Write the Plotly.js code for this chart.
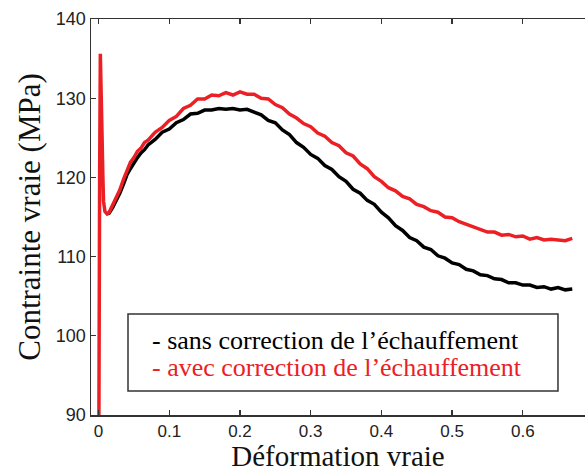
<!DOCTYPE html>
<html>
<head>
<meta charset="utf-8">
<script src="https://cdn.plot.ly/plotly-3.0.1.min.js"></script>
<style>html,body{margin:0;padding:0;background:#fff;overflow:hidden}#chart{width:585px;height:472px}</style>
</head>
<body>
<div id="chart"></div>
<script>
// Series: with thermal correction (red)
const strainRed = [0.0005,0.0007,0.0012,0.0015,0.0025,0.0035,0.004,0.005,0.006,0.007,0.009,0.012,0.015,0.02,0.025,0.03,0.035,0.04,0.045,0.05,0.055,0.06,0.065,0.07,0.08,0.09,0.10,0.11,0.12,0.13,0.14,0.15,0.16,0.17,0.18,0.19,0.20,0.21,0.22,0.23,0.24,0.25,0.26,0.27,0.28,0.29,0.30,0.31,0.32,0.33,0.34,0.35,0.36,0.37,0.38,0.39,0.40,0.41,0.42,0.43,0.44,0.45,0.46,0.47,0.48,0.49,0.50,0.51,0.52,0.53,0.54,0.55,0.56,0.57,0.58,0.59,0.60,0.61,0.62,0.63,0.64,0.65,0.66,0.67];
const stressRed = [90,104.8,105,120,135.6,128,131,125,120.5,117,115.7,115.4,115.6,116.5,117.4,118.4,119.7,120.7,121.9,122.5,123.3,123.7,124.4,124.7,125.7,126.3,127.2,127.7,128.7,129.1,129.9,129.9,130.4,130.3,130.7,130.4,130.8,130.5,130.5,130.0,129.9,129.2,128.8,128.0,127.5,126.8,126.4,125.6,125.2,124.4,124.0,123.1,122.7,121.7,121.1,120.1,119.5,118.7,118.3,117.6,117.3,116.6,116.3,115.8,115.6,115.0,114.9,114.4,114.1,113.7,113.5,113.1,113.1,112.7,112.8,112.5,112.6,112.2,112.4,112.1,112.2,112.1,112.0,112.3];
// Series: without thermal correction (black)
const strainBlack = [0.012,0.015,0.02,0.025,0.03,0.035,0.04,0.045,0.05,0.055,0.06,0.065,0.07,0.08,0.09,0.10,0.11,0.12,0.13,0.14,0.15,0.16,0.17,0.18,0.19,0.20,0.21,0.22,0.23,0.24,0.25,0.26,0.27,0.28,0.29,0.30,0.31,0.32,0.33,0.34,0.35,0.36,0.37,0.38,0.39,0.40,0.41,0.42,0.43,0.44,0.45,0.46,0.47,0.48,0.49,0.50,0.51,0.52,0.53,0.54,0.55,0.56,0.57,0.58,0.59,0.60,0.61,0.62,0.63,0.64,0.65,0.66,0.67];
const stressBlack = [115.4,115.5,116.2,117.0,118.0,119.1,120.3,121.1,121.9,122.5,123.1,123.5,124.1,124.8,125.7,126.1,126.9,127.3,128.0,128.1,128.5,128.5,128.7,128.6,128.7,128.5,128.6,128.2,127.9,127.2,126.9,126.0,125.4,124.4,123.8,122.9,122.4,121.5,121.0,120.1,119.5,118.5,118.0,117.1,116.6,115.6,114.9,113.9,113.3,112.4,112.0,111.2,110.9,110.1,109.8,109.2,109.0,108.4,108.2,107.7,107.6,107.2,107.1,106.7,106.7,106.4,106.4,106.1,106.2,105.9,106.1,105.8,105.9];

const xTicks = [0,0.1,0.2,0.3,0.4,0.5,0.6];
const xTickLabels = ['0','0.1','0.2','0.3','0.4','0.5','0.6'];
const yTicks = [90,100,110,120,130,140];
const legendLabels = ['- sans correction de l’échauffement','- avec correction de l’échauffement'];
const xTitle = 'Déformation vraie';
const yTitle = 'Contrainte vraie (MPa)';

const red = 'rgb(236,32,36)';
const traces = [
  {x: strainBlack, y: stressBlack, mode:'lines', line:{color:'#000', width:3.5}, name: legendLabels[0], hoverinfo:'skip'},
  {x: strainRed, y: stressRed, mode:'lines', line:{color:red, width:3.5}, name: legendLabels[1], hoverinfo:'skip'}
];

const layout = {
  width:585, height:472,
  margin:{l:91, r:0, t:19, b:57},
  paper_bgcolor:'#fff', plot_bgcolor:'#fff',
  showlegend:false,
  xaxis:{
    range:[-0.0107,0.688], tickvals:xTicks, ticktext:xTickLabels,
    ticks:'inside', ticklen:5, tickwidth:1.2, tickcolor:'#333',
    showline:true, linecolor:'#333', linewidth:1.5, mirror:'ticks',
    showgrid:false, zeroline:false,
    tickfont:{family:'Liberation Sans, Arial, sans-serif', size:17, color:'#222'},
    title:{text:xTitle, font:{family:'Liberation Serif, Times New Roman, serif', size:29, color:'#111'}, standoff:18}
  },
  yaxis:{
    range:[90,140], tickvals:yTicks,
    ticks:'inside', ticklen:5, tickwidth:1.2, tickcolor:'#333',
    showline:true, linecolor:'#333', linewidth:1.5, mirror:false,
    showgrid:false, zeroline:false,
    tickfont:{family:'Liberation Sans, Arial, sans-serif', size:18, color:'#222'},
    title:{text:yTitle, font:{family:'Liberation Serif, Times New Roman, serif', size:31, color:'#111'}, standoff:6}
  },
  shapes:[
    {type:'rect', xref:'paper', yref:'paper', x0:0.0749, x1:0.9453, y0:0.0606, y1:0.255,
     line:{color:'#333', width:1.5}, fillcolor:'#fff', layer:'above'}
  ],
  annotations:[
    {xref:'paper', yref:'paper', x:0.1194, y:0.187, xanchor:'left', yanchor:'middle', showarrow:false,
     text:legendLabels[0], font:{family:'Liberation Serif, Times New Roman, serif', size:26, color:'#000'}},
    {xref:'paper', yref:'paper', x:0.1194, y:0.119, xanchor:'left', yanchor:'middle', showarrow:false,
     text:legendLabels[1], font:{family:'Liberation Serif, Times New Roman, serif', size:26, color:red}}
  ]
};

Plotly.newPlot('chart', traces, layout, {staticPlot:true, displayModeBar:false});
</script>
</body>
</html>
